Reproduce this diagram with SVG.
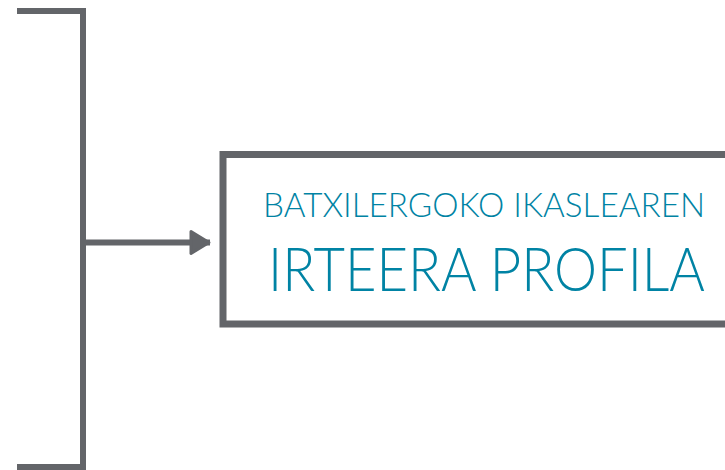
<svg xmlns="http://www.w3.org/2000/svg" width="725" height="470" viewBox="0 0 725 470">
<defs>
<style>
.ln{stroke:#636569;stroke-width:6;fill:none}
.t{fill:#0083a4;font-family:Lato,"Liberation Sans",sans-serif;font-weight:300}
</style>
<marker id="ah" markerUnits="userSpaceOnUse" markerWidth="28" markerHeight="30" refX="22" refY="14" orient="auto">
<path d="M3,3 L21,14 L3,25 Z" fill="#636569" stroke="#636569" stroke-width="3" stroke-linejoin="round"/>
</marker>
</defs>
<rect width="725" height="470" fill="#ffffff"/>
<g id="connectors">
<path class="ln" d="M17,11 H83 V467 H17"/>
<path class="ln" d="M83,242.5 H210" marker-end="url(#ah)"/>
</g>
<g id="profile">
<rect x="223" y="154.5" width="520" height="169.5" fill="#ffffff" stroke="#636569" stroke-width="7"/>
<text class="t" x="263" y="217" font-size="33" textLength="442" lengthAdjust="spacingAndGlyphs">BATXILERGOKO IKASLEAREN</text>
<text class="t" x="268" y="291" font-size="62" textLength="437" lengthAdjust="spacingAndGlyphs">IRTEERA PROFILA</text>
</g>
</svg>
